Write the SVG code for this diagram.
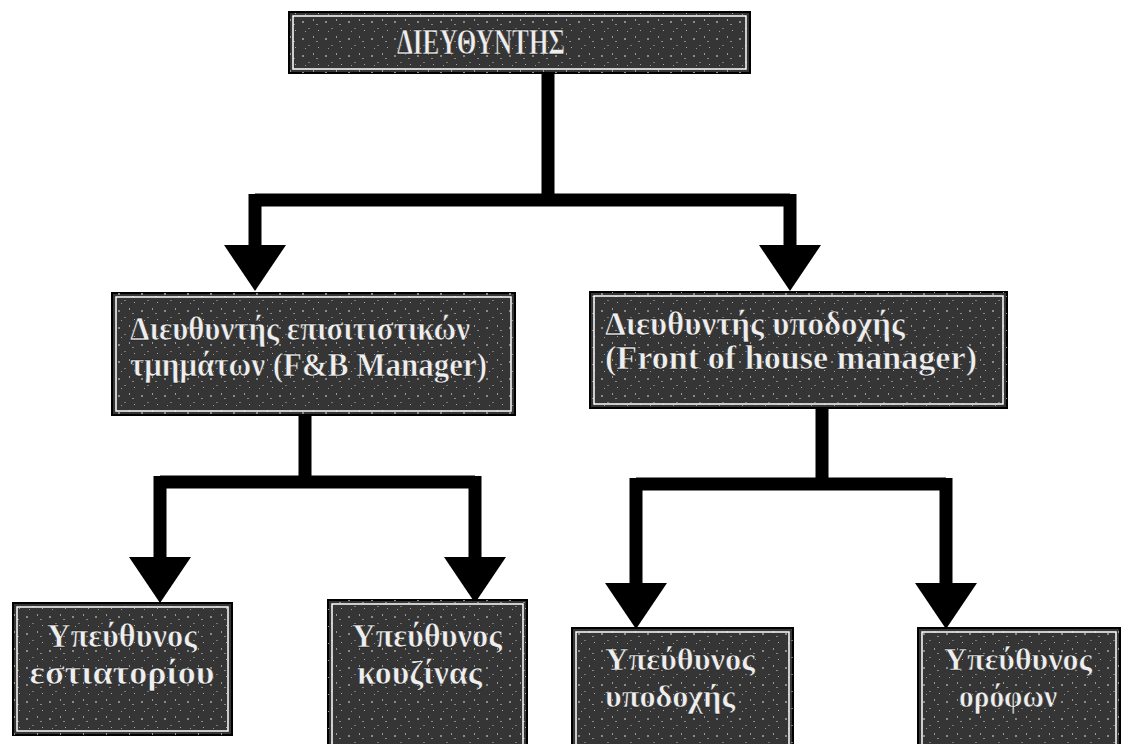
<svg xmlns="http://www.w3.org/2000/svg" width="1132" height="744" viewBox="0 0 1132 744">
<style>
.box{fill:#353535;stroke:#000;stroke-width:2}
.inner{fill:none;stroke:#fff;stroke-width:1.5}
.t{font-family:"Liberation Serif","DejaVu Serif",serif;font-weight:bold;fill:#eeeeee;stroke:#111;stroke-width:0.5}
.c{fill:none;stroke:#000;stroke-width:13}
</style>
<defs>
<pattern id="noise" width="23" height="17" patternUnits="userSpaceOnUse">
<rect x="3" y="4" width="2" height="2" fill="#8a8a8a"/>
<rect x="14" y="2" width="1" height="2" fill="#9a9a9a"/>
<rect x="9" y="11" width="2" height="1" fill="#777"/>
<rect x="19" y="13" width="1" height="1" fill="#aaa"/>
<rect x="6" y="14" width="1" height="1" fill="#999"/>
<rect x="17" y="7" width="2" height="1" fill="#888"/>
</pattern>
<marker id="ah" markerUnits="userSpaceOnUse" markerWidth="64" markerHeight="64" viewBox="0 -32 46 64" refX="0" refY="0" orient="auto">
<path d="M0,-31 L46,0 L0,31 z" fill="#000"/>
</marker>
</defs>
<rect width="1132" height="744" fill="#fff"/>
<g id="connectors">
<path class="c" d="M548,73 V200"/>
<path class="c" d="M255,200 H790"/>
<path class="c" d="M255,194 V245" marker-end="url(#ah)"/>
<path class="c" d="M790,194 V245" marker-end="url(#ah)"/>
<path class="c" d="M305,415 V482"/>
<path class="c" d="M160,482 H475"/>
<path class="c" d="M160,476 V557" marker-end="url(#ah)"/>
<path class="c" d="M475,476 V557" marker-end="url(#ah)"/>
<path class="c" d="M822,408 V484"/>
<path class="c" d="M636,484 H946"/>
<path class="c" d="M636,478 V583" marker-end="url(#ah)"/>
<path class="c" d="M946,478 V583" marker-end="url(#ah)"/>
</g>
<g id="n-director">
<rect class="box" x="289" y="12" width="461" height="61"/>
<rect x="289" y="12" width="461" height="61" fill="url(#noise)"/>
<rect class="inner" x="293" y="16" width="453" height="53"/>
<text class="t" x="481" y="54" font-size="36" text-anchor="middle" textLength="168" lengthAdjust="spacingAndGlyphs">ΔΙΕΥΘΥΝΤΗΣ</text>
</g>
<g id="n-fb">
<rect class="box" x="112" y="293" width="403" height="122"/>
<rect x="112" y="293" width="403" height="122" fill="url(#noise)"/>
<rect class="inner" x="116" y="297" width="395" height="114"/>
<text class="t" x="130" y="340" font-size="34" textLength="340" lengthAdjust="spacingAndGlyphs">Διευθυντής επισιτιστικών</text>
<text class="t" x="130" y="376" font-size="34" textLength="357" lengthAdjust="spacingAndGlyphs">τμημάτων (F&amp;B Manager)</text>
</g>
<g id="n-foh">
<rect class="box" x="590" y="292" width="417" height="116"/>
<rect x="590" y="292" width="417" height="116" fill="url(#noise)"/>
<rect class="inner" x="594" y="296" width="409" height="108"/>
<text class="t" x="605" y="335" font-size="34" textLength="300" lengthAdjust="spacingAndGlyphs">Διευθυντής υποδοχής</text>
<text class="t" x="605" y="369" font-size="34" textLength="372" lengthAdjust="spacingAndGlyphs">(Front of house manager)</text>
</g>
<g id="n-restaurant">
<rect class="box" x="13" y="603" width="219" height="132"/>
<rect x="13" y="603" width="219" height="132" fill="url(#noise)"/>
<rect class="inner" x="17" y="607" width="211" height="124"/>
<text class="t" x="122" y="647" font-size="33" text-anchor="middle" textLength="150" lengthAdjust="spacingAndGlyphs">Υπεύθυνος</text>
<text class="t" x="122" y="684" font-size="33" text-anchor="middle" textLength="185" lengthAdjust="spacingAndGlyphs">εστιατορίου</text>
</g>
<g id="n-kitchen">
<rect class="box" x="328" y="600" width="199" height="150"/>
<rect x="328" y="600" width="199" height="150" fill="url(#noise)"/>
<rect class="inner" x="332" y="604" width="191" height="150"/>
<text class="t" x="427" y="647" font-size="33" text-anchor="middle" textLength="150" lengthAdjust="spacingAndGlyphs">Υπεύθυνος</text>
<text class="t" x="357" y="684" font-size="33" textLength="125" lengthAdjust="spacingAndGlyphs">κουζίνας</text>
</g>
<g id="n-reception">
<rect class="box" x="572" y="628" width="221" height="122"/>
<rect x="572" y="628" width="221" height="122" fill="url(#noise)"/>
<rect class="inner" x="576" y="632" width="213" height="122"/>
<text class="t" x="605" y="670" font-size="32" textLength="150" lengthAdjust="spacingAndGlyphs">Υπεύθυνος</text>
<text class="t" x="605" y="707" font-size="32" textLength="130" lengthAdjust="spacingAndGlyphs">υποδοχής</text>
</g>
<g id="n-floors">
<rect class="box" x="918" y="628" width="202" height="122"/>
<rect x="918" y="628" width="202" height="122" fill="url(#noise)"/>
<rect class="inner" x="922" y="632" width="194" height="122"/>
<text class="t" x="1018" y="670" font-size="32" text-anchor="middle" textLength="148" lengthAdjust="spacingAndGlyphs">Υπεύθυνος</text>
<text class="t" x="1008" y="707" font-size="32" text-anchor="middle" textLength="98" lengthAdjust="spacingAndGlyphs">ορόφων</text>
</g>
</svg>
